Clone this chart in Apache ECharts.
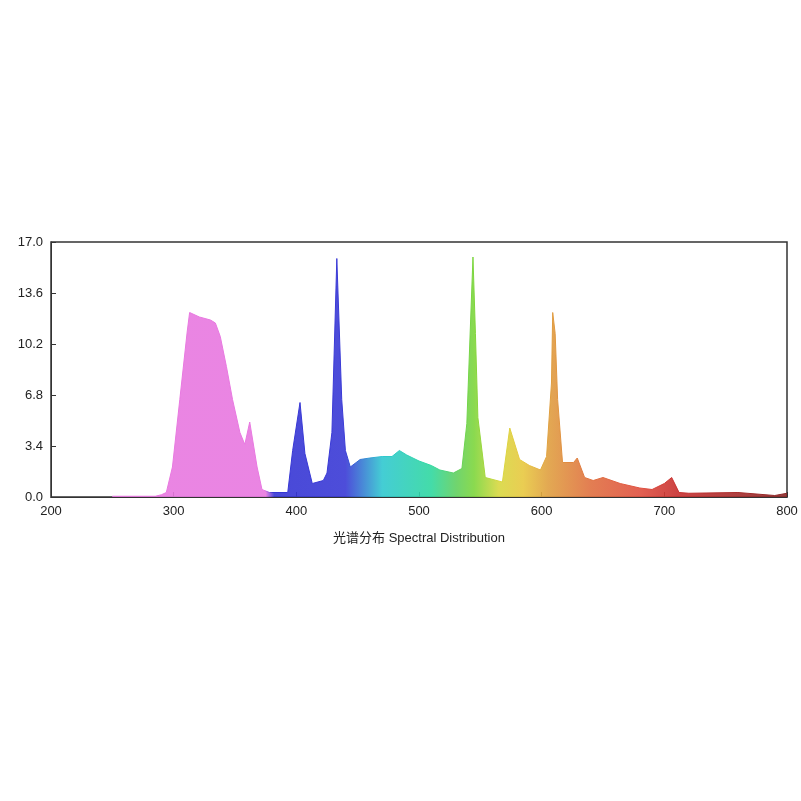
<!DOCTYPE html>
<html><head><meta charset="utf-8">
<script src="https://cdn.jsdelivr.net/npm/echarts@6/dist/echarts.min.js"></script>
<style>html,body{margin:0;background:#fff}#c{width:801px;height:801px}</style>
</head><body><div id="c"></div>
<script>
const wavelengths = [250,285,290,294,299,305,311,313,321,330,334,338,343,348,354,358,362,368,372,378,393,397,403,407,413,422,425,429,433,437,440,444,452,460,470,478,484,490,500,510,517,528,535,539,542,544,546,548,554,568,574,582,590,599,604,608,609,611,613,617,626,629,635,642,650,664,680,690,700,706,712,720,760,790,800];
const intensity   = [0.05,0.05,0.15,0.3,2.0,6.5,11.0,12.3,12.0,11.8,11.6,10.7,8.7,6.5,4.3,3.5,5.0,2.0,0.5,0.3,0.3,3.1,6.3,2.9,0.9,1.1,1.6,4.3,15.9,6.5,3.1,2.0,2.5,2.6,2.7,2.7,3.1,2.8,2.4,2.1,1.8,1.6,1.9,4.9,11.6,16.0,10.9,5.3,1.3,1.0,4.6,2.5,2.1,1.8,2.7,7.6,12.3,10.9,6.5,2.3,2.3,2.6,1.3,1.1,1.3,0.9,0.6,0.5,0.9,1.3,0.3,0.25,0.3,0.1,0.25];
const yTicks = [0,3.4,6.8,10.2,13.6,17];
const colorStops = [[250,'#e878e0'],[375,'#e878e0'],[382,'#3535d4'],[440,'#3a3ad6'],[470,'#30c8d0'],[510,'#30d8a0'],[530,'#60d060'],[545,'#7ed63c'],[565,'#d8d840'],[585,'#e8c840'],[605,'#e0a040'],[640,'#e07040'],[680,'#e05040'],[710,'#c83030'],[800,'#8a2828']];

const data = wavelengths.map((w,i)=>[w,intensity[i]]);
const span = wavelengths[wavelengths.length-1]-wavelengths[0];
const stops = colorStops.map(([w,c])=>({offset:(w-wavelengths[0])/span,color:c}));
const grad = new echarts.graphic.LinearGradient(0,0,1,0,stops);
const chart = echarts.init(document.getElementById('c'));
chart.setOption({
  animation:false,
  grid:{left:51,right:14,top:242,bottom:304,show:true,borderColor:'#333',borderWidth:1.5},
  xAxis:{type:'value',min:200,max:800,interval:100,
    name:'光谱分布 Spectral Distribution',nameLocation:'middle',nameGap:35,
    nameTextStyle:{fontSize:13,color:'#222',fontFamily:'Liberation Sans, Noto Sans CJK SC'},
    axisLine:{lineStyle:{color:'#333'}},axisTick:{inside:true,lineStyle:{color:'#333'}},
    axisLabel:{color:'#222',fontSize:13,fontFamily:'Liberation Sans'},splitLine:{show:false}},
  yAxis:{type:'value',min:0,max:17,interval:3.4,
    axisLine:{show:true,lineStyle:{color:'#333'}},axisTick:{show:true,inside:true,lineStyle:{color:'#333'}},
    axisLabel:{color:'#222',fontSize:13,fontFamily:'Liberation Sans',formatter:v=>v.toFixed(1)},splitLine:{show:false}},
  series:[{type:'line',data:data,symbol:'none',
    lineStyle:{width:1,color:grad},areaStyle:{color:grad,opacity:0.9}}]
});
</script></body></html>
